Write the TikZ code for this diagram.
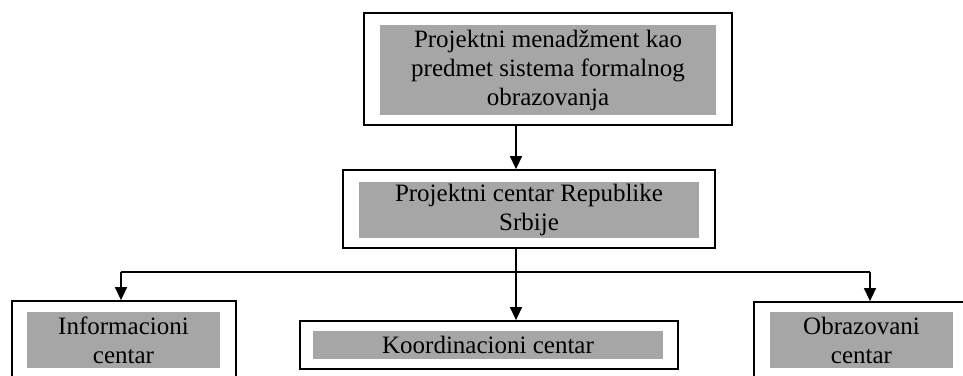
\documentclass[tikz,border=0pt]{standalone}
\usepackage{fontspec}
\setmainfont{Liberation Serif}
\usetikzlibrary{arrows.meta}
\definecolor{boxgray}{RGB}{166,166,166}
\tikzset{
  outerbox/.style={draw=black, line width=1.8pt, fill=white, rectangle, inner sep=0pt},
  graybox/.style={fill=boxgray, rectangle, inner sep=0pt, align=center, text=black,
    font=\fontsize{25}{29}\selectfont},
  arr/.style={draw=black, line width=1.5pt, -{Triangle[width=12pt,length=13pt]}},
  conn/.style={draw=black, line width=1.5pt}
}
\begin{document}
\begin{tikzpicture}[x=1pt,y=-1pt]
\useasboundingbox (0,0) rectangle (963,375);
\clip (0,0) rectangle (963,375);
% outer frames
\node[outerbox, minimum width=368pt, minimum height=112pt] (topo) at (548,69) {};
\node[outerbox, minimum width=372pt, minimum height=78pt] (seco) at (529,209) {};
\node[outerbox, minimum width=224pt, minimum height=81pt] (b1o) at (124,341.5) {};
\node[outerbox, minimum width=378pt, minimum height=48pt] (b2o) at (489,345) {};
\node[outerbox, minimum width=214pt, minimum height=80pt] (b3o) at (861,342) {};
% inner grey text boxes
\node[graybox, minimum width=336pt, minimum height=90pt] (topi) at (548,70)
  {Projektni menadžment kao\\predmet sistema formalnog\\obrazovanja};
\node[graybox, minimum width=340pt, minimum height=56pt] (seci) at (529,210)
  {Projektni centar Republike\\Srbije};
\node[graybox, minimum width=193pt, minimum height=56pt] (b1i) at (123.5,340)
  {Informacioni\\centar};
\node[graybox, minimum width=350pt, minimum height=28pt] (b2i) at (488,345)
  {Koordinacioni centar};
\node[graybox, minimum width=183pt, minimum height=56pt] (b3i) at (861.5,340)
  {Obrazovani\\centar};
% connectors
\coordinate (xa) at (516,0);
\coordinate (j) at (516,272);
\coordinate (c1) at (121,272);
\coordinate (c3) at (870,272);
\draw[arr] (topo.south -| xa) -- (seco.north -| xa);
\draw[arr] (seco.south -| j) -- (b2o.north -| j);
\draw[conn] (c1) -- (c3);
\draw[arr] (c1) -- (b1o.north -| c1);
\draw[arr] (c3) -- (b3o.north -| c3);
\end{tikzpicture}
\end{document}
